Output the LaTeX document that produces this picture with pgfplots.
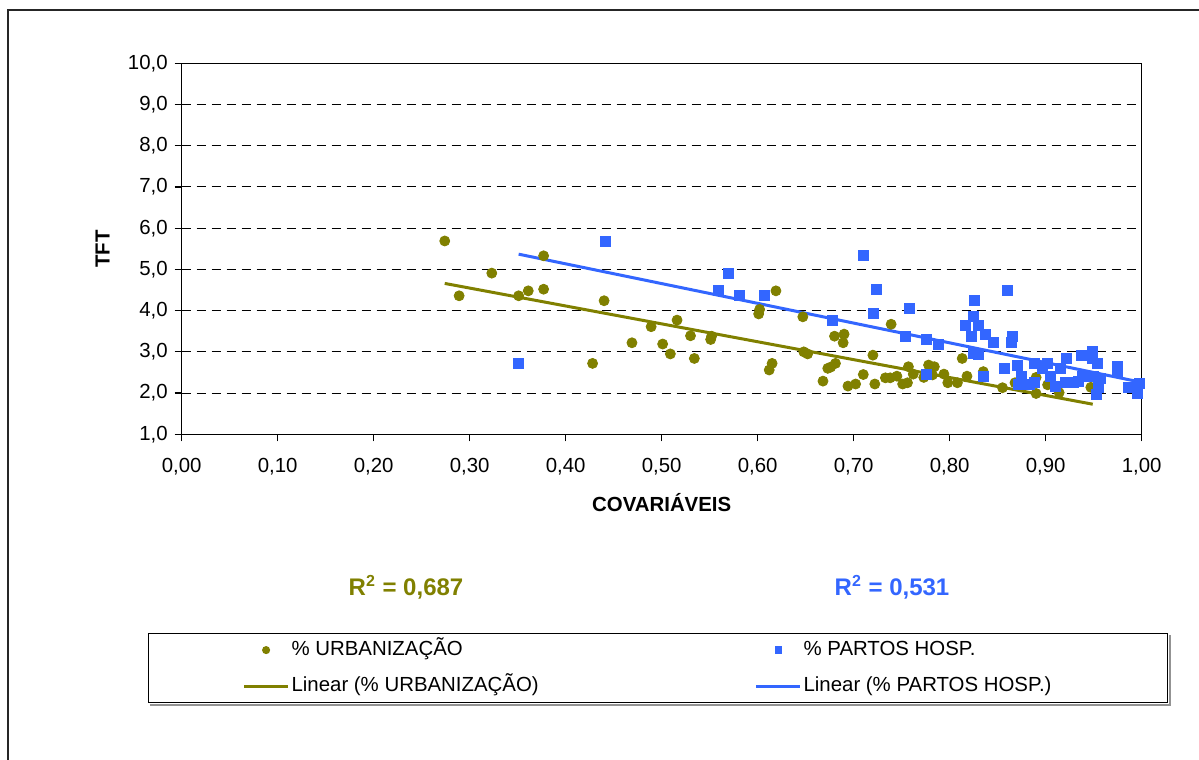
\documentclass[border=0pt]{standalone}
\usepackage{pgfplots}
\pgfplotsset{compat=1.18}
\usepackage{pgfplotstable}
\usepackage{fontspec}
\setmainfont{Liberation Sans}

\definecolor{urbcol}{RGB}{128,128,0}
\definecolor{hospcol}{RGB}{51,102,255}

% small legend samples: a single mark, or a short line
\pgfplotsset{
  marklegend/.style={legend image code/.code={%
    \path[draw=none, fill=none] (0pt,-1pt) rectangle (22pt,1pt);
    \draw[##1, mark size=#1] plot coordinates {(11pt,0pt)};}},
  linelegend/.style={legend image code/.code={%
    \draw[##1] (0pt,0pt) -- (22pt,0pt);}},
}

% TFT against % urbanization
\pgfplotstableread{
x y
0.274 5.69
0.289 4.36
0.323 4.91
0.351 4.36
0.361 4.48
0.377 5.33
0.377 4.52
0.428 2.72
0.440 4.24
0.469 3.22
0.489 3.61
0.501 3.19
0.509 2.95
0.516 3.77
0.530 3.39
0.534 2.84
0.551 3.30
0.552 3.38
0.601 3.92
0.602 4.03
0.619 4.48
0.612 2.56
0.615 2.72
0.647 3.85
0.648 3.00
0.652 2.95
0.668 2.29
0.673 2.60
0.676 2.63
0.681 2.72
0.680 3.38
0.690 3.43
0.689 3.22
0.694 2.17
0.702 2.22
0.710 2.45
0.720 2.92
0.722 2.22
0.739 3.67
0.733 2.37
0.738 2.37
0.745 2.41
0.751 2.22
0.756 2.25
0.757 2.64
0.762 2.46
0.773 2.38
0.778 2.68
0.784 2.64
0.782 2.44
0.794 2.46
0.798 2.25
0.808 2.25
0.813 2.84
0.818 2.41
0.835 2.52
0.855 2.13
0.868 2.25
0.890 2.38
0.890 1.99
0.902 2.20
0.914 2.01
0.947 2.14
}\urbtable

% TFT against % hospital births
\pgfplotstableread{
x y
0.351 2.72
0.441 5.69
0.559 4.48
0.569 4.91
0.581 4.36
0.607 4.36
0.678 3.77
0.710 5.34
0.724 4.52
0.720 3.94
0.758 4.06
0.754 3.38
0.776 3.30
0.788 3.19
0.776 2.46
0.826 4.24
0.825 3.85
0.816 3.65
0.830 3.63
0.823 3.38
0.837 3.43
0.845 3.22
0.825 2.96
0.830 2.95
0.835 2.41
0.860 4.48
0.865 3.38
0.864 3.22
0.857 2.60
0.870 2.68
0.875 2.40
0.872 2.22
0.883 2.22
0.888 2.26
0.888 2.72
0.897 2.60
0.902 2.71
0.905 2.41
0.910 2.17
0.915 2.60
0.922 2.84
0.920 2.25
0.929 2.25
0.934 2.28
0.937 2.92
0.938 2.41
0.949 3.00
0.949 2.84
0.954 2.72
0.950 2.41
0.957 2.36
0.955 2.13
0.953 1.98
0.975 2.64
0.975 2.49
0.986 2.14
0.995 2.12
0.995 1.99
0.998 2.24
}\hosptable

\begin{document}
\begin{tikzpicture}
\useasboundingbox (0,0) rectangle (599.5pt,380pt);
% outer chart frame
\draw[line width=0.8pt, black!85] (4pt,-1pt) -- (4pt,375pt) -- (601pt,375pt);

\begin{axis}[
  at={(90.85pt,162.85pt)}, anchor=south west,
  scale only axis, width=480pt, height=185.5pt,
  xmin=0, xmax=1, ymin=1, ymax=10,
  xtick={0,0.1,0.2,0.3,0.4,0.5,0.6,0.7,0.8,0.9,1},
  ytick={1,2,3,4,5,6,7,8,9,10},
  tick pos=left, tick align=outside,
  major tick length=3.5pt,
  tick style={black, line width=0.6pt},
  axis line style={black, line width=0.7pt},
  ymajorgrids,
  major grid style={black, line width=0.5pt, dash pattern=on 4.5pt off 3pt},
  /pgf/number format/assume math mode=true,
  ticklabel style={font=\fontsize{10.2}{12}\selectfont},
  xticklabel style={/pgf/number format/.cd, fixed, fixed zerofill, precision=2, use comma, /tikz/.cd, yshift=-5pt},
  yticklabel style={/pgf/number format/.cd, fixed, fixed zerofill, precision=1, use comma},
  scaled x ticks=false,
  xlabel={COVARIÁVEIS}, ylabel={TFT},
  every axis x label/.style={at={(axis description cs:0.5,0)}, yshift=-34pt, anchor=center,
    font=\bfseries\fontsize{10.2}{12}\selectfont},
  every axis y label/.style={at={(axis description cs:0,0.5)}, xshift=-39.6pt, rotate=90, anchor=center,
    font=\bfseries\fontsize{10.2}{12}\selectfont},
  legend columns=2,
  legend cell align=left,
  legend style={
    name=leg,
    at={(axis description cs:-0.0351,-0.5356)}, anchor=north west,
    draw=black, line width=0.6pt, fill=white,
    inner xsep=47pt, inner ysep=2.6pt, row sep=6.7pt,
    font=\fontsize{10.2}{12}\selectfont,
    nodes={inner sep=1pt, text height=7.3pt, text depth=2pt, anchor=west},
  },
]
\addplot[only marks, mark=*, mark size=2.5pt, color=urbcol, marklegend=1.7pt]
  table {\urbtable};
\addlegendentry{\makebox[230.5pt][l]{\% URBANIZAÇÃO}}

\addplot[only marks, mark=square*, mark size=2.5pt, color=hospcol, marklegend=1.5pt]
  table {\hosptable};
\addlegendentry{\makebox[134pt][l]{\% PARTOS HOSP.}}

\addplot[color=urbcol, line width=1.5pt, linelegend]
  coordinates {(0.274,4.66) (0.949,1.73)};
\addlegendentry{\makebox[230.5pt][l]{Linear (\% URBANIZAÇÃO)}}

\addplot[color=hospcol, line width=1.5pt, linelegend]
  coordinates {(0.351,5.37) (1.0,2.26)};
\addlegendentry{\makebox[134pt][l]{Linear (\% PARTOS HOSP.)}}
\end{axis}

% shadow along the bottom and right of the legend box
\draw[gray!85, line width=1pt]
  ([xshift=1pt, yshift=-0.8pt]leg.south west) -- ([xshift=0.8pt, yshift=-0.8pt]leg.south east)
  -- ([xshift=0.8pt, yshift=-1pt]leg.north east);

% R-squared of each trend line
\node[text=urbcol, font=\bfseries\fontsize{12}{14}\selectfont] at (203pt,86.5pt) {R\textsuperscript{2} = 0,687};
\node[text=hospcol, font=\bfseries\fontsize{12}{14}\selectfont] at (446pt,86.5pt) {R\textsuperscript{2} = 0,531};
\end{tikzpicture}
\end{document}
